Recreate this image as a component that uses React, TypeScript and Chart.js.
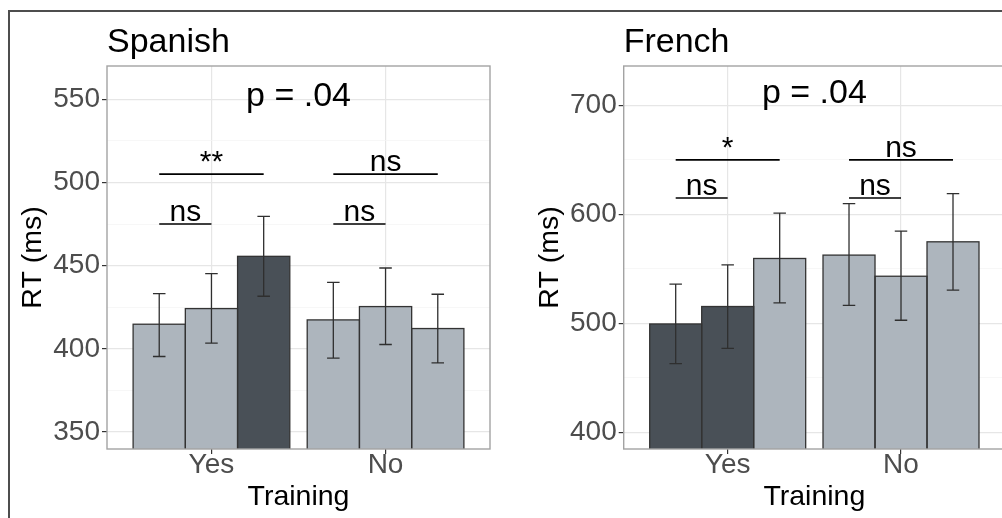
import React, { useEffect, useRef } from "react";
import { Chart, registerables } from "chart.js";

Chart.register(...registerables);

// ---------------- DATA ----------------
const trainingLevels = ["Yes", "No"];
const conditionNames = ["Condition 1", "Condition 2", "Condition 3"];

// Spanish: rows = condition, columns = [Yes, No]
const spanishMeans = [
  [414.8, 417.4],
  [424.2, 425.4],
  [455.6, 412.2],
];
const spanishLower = [
  [395.4, 394.4],
  [403.4, 402.6],
  [431.6, 391.6],
];
const spanishUpper = [
  [433.2, 440.0],
  [445.2, 448.6],
  [479.6, 432.8],
];
const spanishDark = [
  [false, false],
  [false, false],
  [true, false],
];
const spanishMajorTicks = [350, 400, 450, 500, 550];
const spanishMinorTicks = [375, 425, 475, 525];
const spanishRange = [339.8, 570];
const spanishBrackets = [
  { group: 0, from: 0, to: 2, y: 505, label: "**" },
  { group: 1, from: 0, to: 2, y: 505, label: "ns" },
  { group: 0, from: 0, to: 1, y: 475, label: "ns" },
  { group: 1, from: 0, to: 1, y: 475, label: "ns" },
];
const spanishP = { text: "p = .04", y: 546 };

// French
const frenchMeans = [
  [499.4, 562.6],
  [515.4, 543.2],
  [559.5, 574.8],
];
const frenchLower = [
  [462.9, 516.4],
  [477.0, 502.8],
  [518.8, 530.4],
];
const frenchUpper = [
  [535.9, 609.8],
  [553.7, 584.6],
  [601.2, 619.0],
];
const frenchDark = [
  [true, false],
  [true, false],
  [false, false],
];
const frenchMajorTicks = [400, 500, 600, 700];
const frenchMinorTicks = [450, 550, 650];
const frenchRange = [384.6, 736.2];
const frenchBrackets = [
  { group: 0, from: 0, to: 2, y: 650, label: "*" },
  { group: 1, from: 0, to: 2, y: 650, label: "ns" },
  { group: 0, from: 0, to: 1, y: 615, label: "ns" },
  { group: 1, from: 0, to: 1, y: 615, label: "ns" },
];
const frenchP = { text: "p = .04", y: 702 };

// ---------------- STYLE / LAYOUT ----------------
const FONT = "'Liberation Sans', Arial, Helvetica, sans-serif";
const LIGHT = "#adb5bd";
const DARK = "#495057";
const OUTLINE = "#333333";
const GRID_MAJOR = "#e6e6e6";
const GRID_MINOR = "#f3f3f3";
const H = 518;

const panels = [
  {
    title: "Spanish",
    means: spanishMeans,
    lower: spanishLower,
    upper: spanishUpper,
    dark: spanishDark,
    major: spanishMajorTicks,
    minor: spanishMinorTicks,
    range: spanishRange,
    brackets: spanishBrackets,
    p: spanishP,
    canvasLeft: 0,
    canvasWidth: 505,
    plotLeft: 107,
    plotRight: 490,
    yTitlePad: 16.3,
  },
  {
    title: "French",
    means: frenchMeans,
    lower: frenchLower,
    upper: frenchUpper,
    dark: frenchDark,
    major: frenchMajorTicks,
    minor: frenchMinorTicks,
    range: frenchRange,
    brackets: frenchBrackets,
    p: frenchP,
    canvasLeft: 505,
    canvasWidth: 520,
    plotLeft: 118.7,
    plotRight: 500,
    yTitlePad: 28,
  },
];

const PLOT_TOP = 66;
const PLOT_BOTTOM = 449;

function makeExtrasPlugin(panel: any) {
  return {
    id: "panelExtras",
    afterDatasetsDraw(chart: any) {
      const ctx = chart.ctx as CanvasRenderingContext2D;
      const area = chart.chartArea;
      const yScale = chart.scales.y;
      ctx.save();
      ctx.beginPath();
      ctx.rect(area.left, area.top, area.right - area.left, area.bottom - area.top);
      ctx.clip();
      // bar outlines (centered on edges like ggplot)
      chart.data.datasets.forEach((_ds: any, i: number) => {
        const meta = chart.getDatasetMeta(i);
        meta.data.forEach((bar: any) => {
          const { x, y, width, base } = bar.getProps(["x", "y", "width", "base"], true);
          ctx.strokeStyle = OUTLINE;
          ctx.lineWidth = 1.3;
          ctx.strokeRect(x - width / 2, y, width, base - y + 6);
        });
      });
      ctx.restore();

      // error bars
      ctx.save();
      ctx.strokeStyle = "#2f2f2f";
      ctx.lineWidth = 1.3;
      chart.data.datasets.forEach((_ds: any, i: number) => {
        const meta = chart.getDatasetMeta(i);
        meta.data.forEach((bar: any, j: number) => {
          const { x, width } = bar.getProps(["x", "width"], true);
          const yl = yScale.getPixelForValue(panel.lower[i][j]);
          const yu = yScale.getPixelForValue(panel.upper[i][j]);
          const cap = width * 0.12;
          ctx.beginPath();
          ctx.moveTo(x, yl);
          ctx.lineTo(x, yu);
          ctx.moveTo(x - cap, yl);
          ctx.lineTo(x + cap, yl);
          ctx.moveTo(x - cap, yu);
          ctx.lineTo(x + cap, yu);
          ctx.stroke();
        });
      });
      ctx.restore();

      // panel border
      ctx.save();
      ctx.strokeStyle = "#a3a3a3";
      ctx.lineWidth = 1.4;
      ctx.strokeRect(area.left, area.top, area.right - area.left, area.bottom - area.top);
      ctx.restore();

      // significance brackets
      ctx.save();
      ctx.fillStyle = "#000";
      ctx.strokeStyle = "#000";
      ctx.lineWidth = 1.6;
      ctx.textAlign = "center";
      ctx.textBaseline = "alphabetic";
      ctx.font = `30px ${FONT}`;
      panel.brackets.forEach((b: any) => {
        const x1 = chart.getDatasetMeta(b.from).data[b.group].x;
        const x2 = chart.getDatasetMeta(b.to).data[b.group].x;
        const yy = yScale.getPixelForValue(b.y);
        ctx.beginPath();
        ctx.moveTo(x1, yy);
        ctx.lineTo(x2, yy);
        ctx.stroke();
        ctx.fillText(b.label, (x1 + x2) / 2, yy - 3);
      });
      // p text
      ctx.font = `34px ${FONT}`;
      ctx.fillText(panel.p.text, (area.left + area.right) / 2, yScale.getPixelForValue(panel.p.y));
      // title
      ctx.textAlign = "left";
      ctx.font = `34px ${FONT}`;
      ctx.fillText(panel.title, area.left, 52);
      ctx.restore();
    },
  };
}

function buildConfig(panel: any): any {
  const major: number[] = panel.major;
  const minor: number[] = panel.minor;
  const isMajor = (v: number) => major.includes(v);
  return {
    type: "bar",
    data: {
      datasets: conditionNames.map((name, i) => ({
        label: name,
        data: trainingLevels.map((_l, j) => ({ x: j + 1, y: panel.means[i][j] })),
        backgroundColor: trainingLevels.map((_l, j) => (panel.dark[i][j] ? DARK : LIGHT)),
        borderWidth: 0,
        categoryPercentage: 0.9,
        barPercentage: 1,
      })),
    },
    options: {
      animation: false,
      responsive: false,
      maintainAspectRatio: false,
      layout: {
        padding: { left: 0, top: PLOT_TOP, right: panel.canvasWidth - panel.plotRight, bottom: 0 },
      },
      plugins: {
        legend: { display: false },
        tooltip: { enabled: false },
        title: { display: false },
      },
      scales: {
        x: {
          type: "linear",
          min: 0.4,
          max: 2.6,
          offset: false,
          afterBuildTicks: (s: any) => {
            s.ticks = trainingLevels.map((_l, j) => ({ value: j + 1 }));
          },
          afterFit: (s: any) => {
            s.height = H - PLOT_BOTTOM;
          },
          ticks: {
            callback: (v: number) => trainingLevels[Math.round(v) - 1] ?? "",
            font: { family: FONT, size: 28, lineHeight: 1 },
            color: "#4d4d4d",
            padding: -3,
            autoSkip: false,
            maxRotation: 0,
            minRotation: 0,
          },
          grid: {
            offset: false,
            color: GRID_MAJOR,
            lineWidth: 1.2,
            tickColor: "#333",
            tickLength: 5,
            tickWidth: 1.2,
          },
          border: { display: false },
          title: {
            display: true,
            text: "Training",
            color: "#000",
            font: { family: FONT, size: 28.5 },
            padding: { top: 0, bottom: 4.1 },
          },
        },
        y: {
          type: "linear",
          min: panel.range[0],
          max: panel.range[1],
          afterBuildTicks: (s: any) => {
            s.ticks = [...major, ...minor].sort((a, b) => a - b).map((v) => ({ value: v }));
          },
          afterFit: (s: any) => {
            s.width = panel.plotLeft;
          },
          ticks: {
            callback: (v: number) => (isMajor(v) ? String(v) : ""),
            font: { family: FONT, size: 28, lineHeight: 1 },
            color: "#4d4d4d",
            padding: 2,
            autoSkip: false,
          },
          grid: {
            offset: false,
            color: (c: any) => (c.tick && isMajor(c.tick.value) ? GRID_MAJOR : GRID_MINOR),
            lineWidth: (c: any) => (c.tick && isMajor(c.tick.value) ? 1.2 : 0.7),
            tickColor: (c: any) => (c.tick && isMajor(c.tick.value) ? "#333" : "rgba(0,0,0,0)"),
            tickLength: 5,
            tickWidth: 1.2,
          },
          border: { display: false },
          title: {
            display: true,
            text: "RT (ms)",
            color: "#000",
            font: { family: FONT, size: 28.5 },
            padding: { top: panel.yTitlePad, bottom: 0 },
          },
        },
      },
    },
    plugins: [makeExtrasPlugin(panel)],
  };
}

function Panel({ panel }: { panel: any }) {
  const ref = useRef<HTMLCanvasElement>(null);
  useEffect(() => {
    if (!ref.current) return;
    const chart = new Chart(ref.current, buildConfig(panel));
    return () => chart.destroy();
  }, [panel]);
  return (
    <canvas
      ref={ref}
      width={panel.canvasWidth}
      height={H}
      style={{
        position: "absolute",
        left: panel.canvasLeft,
        top: 0,
        width: panel.canvasWidth,
        height: H,
        display: "block",
      }}
    />
  );
}

export default function App() {
  return (
    <div
      style={{
        position: "fixed",
        left: 0,
        top: 0,
        width: 1002,
        height: H,
        overflow: "hidden",
        background: "#fff",
      }}
    >
      <div
        style={{
          position: "absolute",
          left: 8,
          top: 10,
          width: 3000,
          height: 3000,
          borderTop: "2px solid #4d4d4d",
          borderLeft: "2px solid #4d4d4d",
        }}
      />
      {panels.map((p) => (
        <Panel key={p.title} panel={p} />
      ))}
    </div>
  );
}
